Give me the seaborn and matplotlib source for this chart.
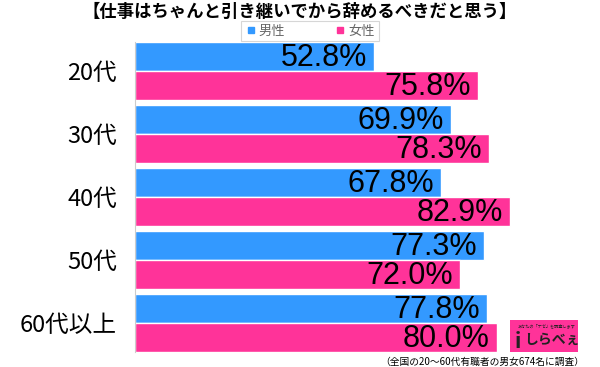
import pandas as pd
import numpy as np
import seaborn as sns
from matplotlib import pyplot as plt
from matplotlib.lines import Line2D
from matplotlib.patches import Rectangle

ages = ['20代', '30代', '40代', '50代', '60代以上']
male = [52.8, 69.9, 67.8, 77.3, 77.8]
female = [75.8, 78.3, 82.9, 72.0, 80.0]
sexes = ['男性', '女性']
colors = ['#3399ff', '#ff3399']

title = '【仕事はちゃんと引き継いでから辞めるべきだと思う】'
note = '（全国の20～60代有職者の男女674名に調査）'

df = pd.DataFrame({
    'age': ages * 2,
    'value': male + female,
    'sex': [sexes[0]] * len(ages) + [sexes[1]] * len(ages),
})

sns.set_style('white')
plt.rcParams['font.family'] = ['Noto Sans CJK JP', 'DejaVu Sans']
plt.rcParams['text.color'] = 'black'

fig = plt.figure(figsize=(6, 3.67), dpi=100)
ax = fig.add_axes([135 / 600, 1 - 352 / 367, 452 / 600, 310 / 367])

sns.barplot(data=df, y='age', x='value', hue='sex', palette=colors,
            orient='h', width=0.92, saturation=1, legend=False, ax=ax)

for cont in ax.containers:
    for bar in cont:
        w = bar.get_width()
        ax.annotate(f'{w:.1f}%', (w, bar.get_y() + bar.get_height() / 2),
                    xytext=(-5, -1), textcoords='offset points',
                    ha='right', va='center', fontsize=22, color='black',
                    family='Liberation Sans')

ax.set_xlim(0, 100)
ax.set_ylim(len(ages) - 0.54, -0.46)
ax.set_xlabel('')
ax.set_ylabel('')
ax.set_xticks([])
ax.tick_params(axis='y', length=0, pad=13, labelsize=17, labelcolor='black')
for s in ['top', 'right', 'bottom']:
    ax.spines[s].set_visible(False)
ax.spines['left'].set_color('#cccccc')

fig.text(0.5, 1 - 12 / 367, title, ha='center', va='center',
         fontsize=12.5, fontweight='bold')

handles = [Line2D([0], [0], marker='s', ls='', color=c, markersize=4) for c in colors]
leg = fig.legend(handles, sexes, loc='center', bbox_to_anchor=(310 / 600, 1 - 31 / 367),
                 ncol=2, frameon=True, fancybox=False, fontsize=9.5,
                 handletextpad=0.2, columnspacing=3.8, borderpad=0.3,
                 borderaxespad=0, handlelength=0.8)
leg.get_frame().set_edgecolor('#cccccc')
leg.get_frame().set_linewidth(0.8)
for t in leg.get_texts():
    t.set_color('#666666')

# logo
fig.patches.append(Rectangle((510 / 600, 1 - 352 / 367), 68 / 600, 32 / 367,
                             transform=fig.transFigure, facecolor='#ff3399',
                             edgecolor='none'))
fig.text(552 / 600, 1 - 340 / 367, 'しらべぇ', ha='center', va='center',
         fontsize=10, fontweight='bold', color='#222222')
fig.text(518 / 600, 1 - 341 / 367, 'i', ha='center', va='center',
         fontsize=15, fontweight='bold', color='#222222')
fig.text(546 / 600, 1 - 326 / 367, 'あなたの「ナゼ」を調査します', ha='center', va='center',
         fontsize=3, color='#222222')

fig.text(584 / 600, 1 - 362 / 367, note, ha='right', va='center', fontsize=7)

fig.savefig('out.png', dpi=100)
